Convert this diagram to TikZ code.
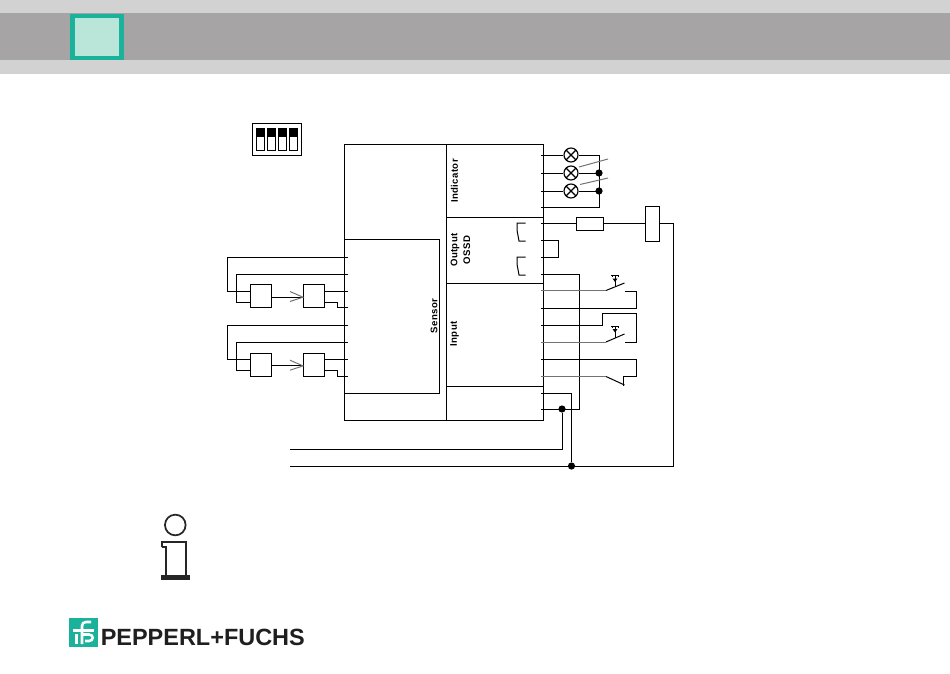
\documentclass[tikz,border=0pt]{standalone}
\usepackage{fontspec}
\newfontfamily\labelfont{Liberation Sans}[LetterSpace=4]
\newfontfamily\brandfont{Liberation Sans}
\definecolor{bandlight}{HTML}{D2D2D2}
\definecolor{banddark}{HTML}{A6A4A4}
\definecolor{brandgreen}{HTML}{1AB29B}
\definecolor{brandpale}{HTML}{B9E6D8}
\tikzset{
	wire/.style={line width=.75pt},
	lead/.style={line width=.75pt,black!55},
	smallbox/.style={draw,line width=.75pt,inner sep=0pt,minimum width=16pt,minimum height=16.7pt},
	lamp/.style={draw,circle,line width=.85pt,inner sep=0pt,minimum size=10.5pt,fill=white,
		path picture={\draw[line width=.85pt] (path picture bounding box.north west) -- (path picture bounding box.south east) (path picture bounding box.north east) -- (path picture bounding box.south west);}},
	joint/.style={circle,fill=black,inner sep=0pt,minimum size=5.4pt},
	blocklabel/.style={rotate=90,font=\labelfont\bfseries\fontsize{7.2}{9.5}\selectfont,align=center,inner sep=0pt},
	dipswitch/.style={draw,line width=.75pt,inner sep=0pt,minimum width=6pt,minimum height=15.75pt,
		path picture={\fill (path picture bounding box.north west) rectangle ([yshift=-6pt]path picture bounding box.north east);}}
}
\begin{document}
\begin{tikzpicture}[x=.75pt,y=-.75pt]
	\useasboundingbox (0,0) rectangle (950,674);
	% header
	\fill[bandlight] (0,0) rectangle (950,74);
	\fill[banddark] (0,13) rectangle (950,60);
	\node[draw=brandgreen,fill=brandpale,line width=3.4pt,inner sep=0pt,minimum width=37.1pt,minimum height=31.5pt] (tab) at (97,37) {};
	% dip switch
	\node[draw,line width=.75pt,inner sep=0pt,minimum width=36.75pt,minimum height=24pt] (dip) at (276.5,139.5) {};
	\foreach \n/\x in {1/260,2/271,3/282,4/293}
		\node[dipswitch] (sw\n) at (\x,139.5) {};
	% main blocks
	\coordinate (tl) at (344.5,144);
	\coordinate (br) at (543.5,420);
	\draw[wire] (tl) rectangle (br);
	\draw[wire] (446,144) -- (446,420);
	\draw[wire] (446,217) -- (543.5,217) (446,283) -- (543.5,283) (446,386) -- (543.5,386);
	\draw[wire] (344.5,239) rectangle (439,393);
	\node[blocklabel] (indicator) at (454.5,181) {Indicator};
	\node[blocklabel] (output) at (460.5,250) {Output\\OSSD};
	\node[blocklabel] (input) at (454.5,334) {Input};
	\node[blocklabel] (sensor) at (434,316) {Sensor};
	% indicator lamps
	\foreach \n/\y in {1/155,2/173,3/191}{
		\coordinate (ip\n) at (541,\y);
		\node[lamp] (lamp\n) at (571,\y) {};
		\coordinate (ir\n) at (599,\y);
		\draw[wire] (ip\n) -- (lamp\n) (lamp\n) -- (ir\n);
	}
	\coordinate (ip4) at (541,207);
	\coordinate (ir4) at (599,207);
	\draw[wire] (ir1) -- (ir4) -- (ip4);
	\node[joint] (j1) at (ir2) {};
	\node[joint] (j2) at (ir3) {};
	\draw[lead] (579,167) -- (608,159) (580,184.5) -- (608,178);
	% output
	\coordinate (op1) at (541,223.5);
	\node[draw,line width=.75pt,inner sep=0pt,minimum width=20.25pt,minimum height=9.75pt] (fuse) at (589.5,223.5) {};
	\node[draw,line width=.75pt,inner sep=0pt,minimum width=10.5pt,minimum height=26.25pt] (relay) at (652,223.5) {};
	\coordinate (sr) at (673.5,223.5);
	\coordinate (sb) at (673.5,466);
	\coordinate (gnd) at (290,466);
	\coordinate (vcc) at (290,449.5);
	\draw[wire] (op1) -- (fuse) (fuse) -- (relay) (relay) -- (sr) -- (sb) -- (gnd);
	\draw[wire] (541,240) -- (558.5,240) -- (558.5,257) -- (541,257);
	\draw[wire] (541,274) -- (579.5,274) -- (579.5,409) -- (541,409);
	\draw[wire] (525.5,223) -- (517,223) -- (517,230) -- (519,241) -- (525.5,241);
	\draw[wire] (525.5,257) -- (517,257) -- (517,264) -- (519,275) -- (525.5,275);
	% power
	\node[joint] (j3) at (562,409) {};
	\node[joint] (j4) at (571.5,466) {};
	\draw[wire] (j3) -- (562,449.5) -- (vcc);
	\draw[wire] (541,393.5) -- (571.5,393.5) -- (j4);
	% input contacts
	\draw[lead] (541,290.5) -- (606,290.5);
	\draw[wire] (606,290.5) -- (624.5,283);
	\draw[wire] (624.5,291.5) -- (636.5,291.5) -- (636.5,308) -- (541,308);
	\draw[wire] (541,325) -- (602.5,325) -- (602.5,313.5) -- (636.5,313.5) -- (636.5,342) -- (624.5,342);
	\draw[lead] (541,342) -- (606,342);
	\draw[wire] (606,342) -- (624.5,334);
	\draw[wire] (541,359.5) -- (636.5,359.5) -- (636.5,376.5) -- (623.5,376.5) -- (623.5,386);
	\draw[lead] (541,376.5) -- (606,376.5);
	\draw[wire] (606,376.5) -- (624.5,385);
	\foreach \y/\ya in {275.5/287,326/338}{
		\draw[line width=.6pt] (611,\y) -- (619,\y) (612,\y) -- (612,\y+1.5) (618,\y) -- (618,\y+1.5);
		\draw[line width=.6pt] (615,\y) -- (615,\ya);
		\fill (612.5,\y+3) -- (617.5,\y+3) -- (615,\y+6.5) -- cycle;
	}
	% sensor pairs
	\foreach \n/\y in {1/296,2/364.7}{
		\node[smallbox,minimum height=17pt] (tx\n) at (261,\y) {};
		\node[smallbox,minimum height=17pt] (rx\n) at (314,\y) {};
		\coordinate (a\n) at (348,\y-39);
		\coordinate (b\n) at (348,\y-22);
		\coordinate (c\n) at (348,\y-5);
		\coordinate (d\n) at (348,\y+11.3);
		\draw[wire] (a\n) -- (227.5,\y-39) -- (227.5,\y-5) -- (250.3,\y-5);
		\draw[wire] (b\n) -- (236.5,\y-22) -- (236.5,\y+6) -- (250.3,\y+6);
		\draw[wire] (tx\n.east |- 0,\y+1.2) -- (rx\n.west |- 0,\y+1.2);
		\draw[lead] (290,\y-4.5) -- (303,\y+1.2) -- (290,\y+5.5);
		\draw[wire] (324.7,\y-5) -- (c\n);
		\draw[wire] (324.7,\y+6) -- (337.5,\y+6) -- (337.5,\y+11.3) -- (d\n);
	}
	% info sign
	\node[draw,circle,line width=1.3pt,inner sep=0pt,minimum size=15.5pt,color=black!85] (info) at (175.3,525) {};
	\draw[line width=1.5pt,black!85] (162,547) -- (162,542) -- (186,542) -- (186,578) (162,547) -- (166,547) -- (166,578);
	\fill[black!85] (161,575) rectangle (190,580);
	% logo
	\fill[brandgreen] (69,618) rectangle (97.7,646.7);
	\draw[white,line width=1.9pt] (91,622) -- (86,622) .. controls (83.5,622) and (82,623.5) .. (82,626) -- (82,644);
	\draw[white,line width=1.9pt] (73,630.5) -- (94,630.5);
	\draw[white,line width=1.9pt] (76.5,634) -- (76.5,644);
	\draw[white,line width=1.9pt] (82,634.5) -- (89,634.5) .. controls (94,634.5) and (94,641) .. (89,641) -- (85,641);
	\node[font=\brandfont\bfseries\fontsize{17.6}{20}\selectfont,anchor=west,inner sep=0pt,text=black!88] (brand) at (100.5,637.5) {PEPPERL+FUCHS};
\end{tikzpicture}
\end{document}
